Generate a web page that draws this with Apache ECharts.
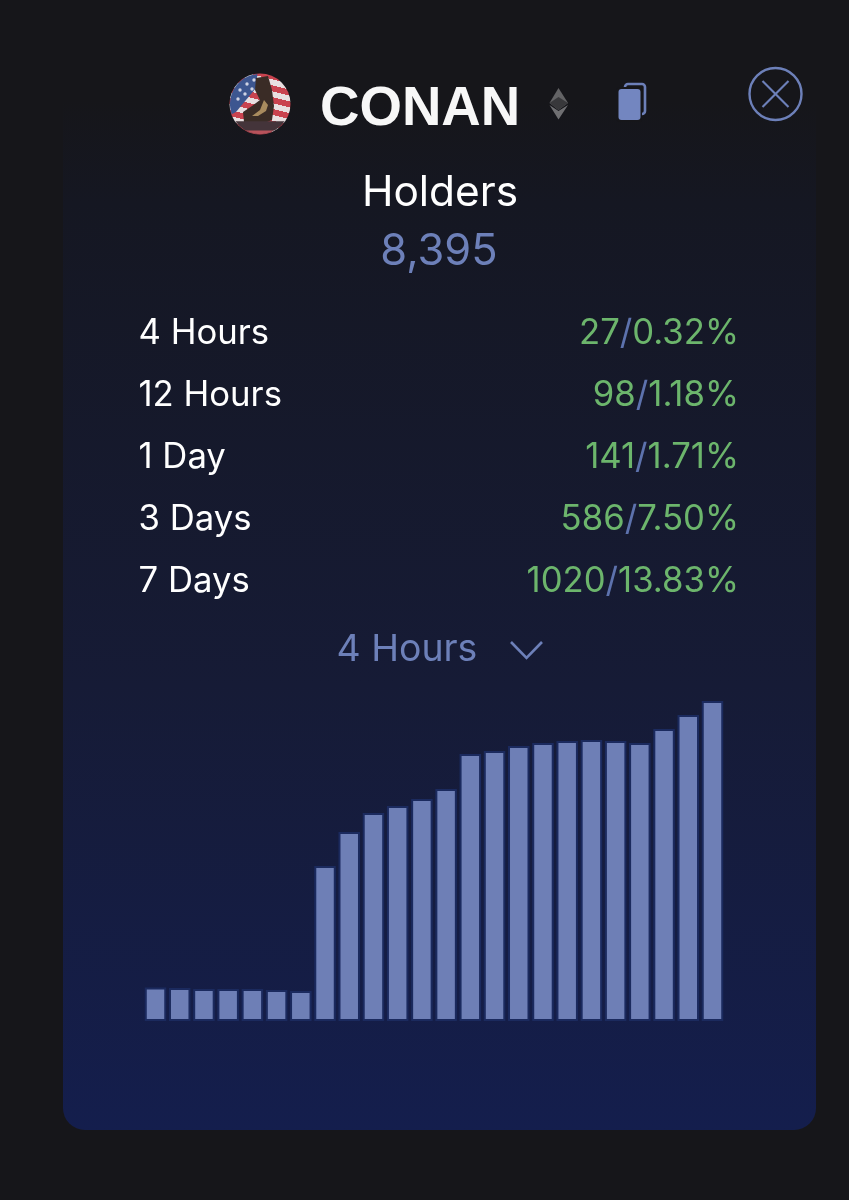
<!DOCTYPE html>
<html>
<head>
<meta charset="utf-8">
<style>html,body{margin:0;padding:0;background:#16161a}#c{width:849px;height:1200px}</style>
<script src="https://cdn.jsdelivr.net/npm/echarts@6/dist/echarts.min.js"></script>
</head>
<body>
<div id="c"></div>
<script>
const tokenName = 'CONAN';
const metricName = 'Holders';
const metricValue = '8,395';
const periodLabels = ['4 Hours', '12 Hours', '1 Day', '3 Days', '7 Days'];
const periodCounts = ['27', '98', '141', '586', '1020'];
const periodPercents = ['0.32%', '1.18%', '1.71%', '7.50%', '13.83%'];
const selectedPeriod = '4 Hours';
const categories = ['1','2','3','4','5','6','7','8','9','10','11','12','13','14','15','16','17','18','19','20','21','22','23','24'];
const holderBars = [33.5,33,32,32,32,31,30,155,189,208,215,222,232,267,270,275,278,280,281,280,278,292,306,320];

const WHITE = '#ffffff', BLUE = '#6d80b9', GREEN = '#6cb56c', SLASH = '#5d72ad';
const FONT = 'Inter';
const rowBase = [344, 406, 468, 530, 592];

const graphics = [];
graphics.push({
  type: 'rect', z: -10, silent: true,
  shape: {x: 63, y: 100, width: 753, height: 1030, r: [0, 0, 22, 22]},
  style: {fill: {type: 'linear', x: 0, y: 0, x2: 0, y2: 1, colorStops: [
    {offset: 0, color: '#16161a'},
    {offset: 0.1, color: '#151722'},
    {offset: 0.57, color: '#161b36'},
    {offset: 1, color: '#141e4d'}
  ]}}
});
function text(t, x, baseline, size, color, align, weight, family, k) {
  graphics.push({type: 'text', silent: true, x: x, y: baseline - (k || 0.81) * size, style: {
    text: t, fill: color, font: (weight || 400) + ' ' + size + 'px ' + (family || FONT),
    textAlign: align || 'left'
  }});
}
text(tokenName, 320, 124, 54.6, '#f7f7f7', 'left', 700, '"Liberation Sans"', 0.76);
text(metricName, 440, 207, 42.4, WHITE, 'center');
text(metricValue, 439, 266, 43.4, BLUE, 'center');
periodLabels.forEach((p, i) => {
  text(p, 138.5, rowBase[i], 34.7, WHITE, 'left');
  graphics.push({type: 'text', silent: true, x: 739, y: rowBase[i] - 0.81 * 34.7, style: {
    text: '{g|' + periodCounts[i] + '}{s|/}{g|' + periodPercents[i] + '}',
    textAlign: 'right',
    font: '400 34.7px ' + FONT,
    rich: {
      g: {fill: GREEN, font: '400 34.7px ' + FONT},
      s: {fill: SLASH, font: '400 34.7px ' + FONT}
    }
  }});
});
text(selectedPeriod, 336.5, 662, 37.4, BLUE, 'left');
graphics.push({type: 'polyline', silent: true, shape: {points: [[511, 642], [526.5, 658], [542, 642]]},
  style: {stroke: BLUE, lineWidth: 2.6, fill: null}});
graphics.push({type: 'circle', silent: true, shape: {cx: 775.5, cy: 94, r: 26}, style: {fill: 'none', stroke: BLUE, lineWidth: 2.4}});
graphics.push({type: 'line', silent: true, shape: {x1: 762.5, y1: 81, x2: 788.5, y2: 107}, style: {stroke: BLUE, lineWidth: 2.2}});
graphics.push({type: 'line', silent: true, shape: {x1: 788.5, y1: 81, x2: 762.5, y2: 107}, style: {stroke: BLUE, lineWidth: 2.2}});
graphics.push({type: 'rect', silent: true, shape: {x: 625, y: 84, width: 20, height: 30, r: 3}, style: {fill: 'none', stroke: BLUE, lineWidth: 2.6}});
graphics.push({type: 'rect', silent: true, shape: {x: 616.5, y: 87, width: 25.5, height: 35, r: 3}, style: {fill: '#16161a'}});
graphics.push({type: 'rect', silent: true, shape: {x: 618.5, y: 89, width: 22, height: 31, r: 3}, style: {fill: '#7386c0'}});
graphics.push({type: 'polygon', silent: true, shape: {points: [[558.5, 88], [568, 103], [558.5, 110], [549.5, 103]]}, style: {fill: '#636365'}});
graphics.push({type: 'polygon', silent: true, shape: {points: [[558.5, 97], [568, 103], [558.5, 110], [549.5, 103]]}, style: {fill: '#38383b'}});
graphics.push({type: 'polygon', silent: true, shape: {points: [[549.5, 105], [558.5, 111], [568, 105], [558.5, 119.5]]}, style: {fill: '#6f6f72'}});
// avatar
const stripes = [];
const nS = 11;
for (let i = 0; i < nS; i++) {
  const c = i % 2 ? '#e8dfe0' : '#c9434f';
  stripes.push({offset: i / nS, color: c}, {offset: (i + 1) / nS, color: c});
}
graphics.push({type: 'circle', silent: true, shape: {cx: 260, cy: 104, r: 30.5},
  style: {fill: {type: 'linear', x: 0.7, y: 0, x2: 0.45, y2: 1, colorStops: stripes}}});
function seg(a0, a1, inner) {
  const pts = [];
  for (let i = 0; i <= 24; i++) {
    const a = (a0 + (a1 - a0) * i / 24) * Math.PI / 180;
    pts.push([260 + 30 * Math.cos(a), 104 + 30 * Math.sin(a)]);
  }
  return pts.concat(inner || []);
}
graphics.push({type: 'polygon', silent: true, shape: {points: seg(160, 265, [[256, 88], [246, 100], [236, 112]])}, style: {fill: '#3d5690'}});
[[240,90],[247,84],[254,80],[238,99],[245,94],[252,89]].forEach(p => graphics.push({type: 'circle', silent: true, shape: {cx: p[0], cy: p[1], r: 1.7}, style: {fill: '#cfd3e4'}}));
graphics.push({type: 'polygon', silent: true, shape: {points: [[256,78],[268,76],[272,90],[274,106],[272,120],[262,124],[244,122],[243,112],[252,106],[260,100],[255,90]]}, style: {fill: '#3a2c26'}});
graphics.push({type: 'polygon', silent: true, shape: {points: [[264,100],[268,105],[266,111],[258,116],[252,116],[260,110]]}, style: {fill: '#a98b5e'}});
graphics.push({type: 'polygon', silent: true, shape: {points: seg(35, 145)}, style: {fill: '#44343a'}});
graphics.push({type: 'polygon', silent: true, shape: {points: seg(62, 118)}, style: {fill: '#b8525b'}});

const chart = echarts.init(document.getElementById('c'), null, {renderer: 'canvas'});
chart.setOption({
  animation: false,
  backgroundColor: '#16161a',
  graphic: {elements: graphics},
  grid: {left: 143.4, width: 581.2, top: 691, height: 330, containLabel: false},
  xAxis: {type: 'category', data: categories, show: false, boundaryGap: true},
  yAxis: {type: 'value', min: 0, max: 330, show: false, splitLine: {show: false}},
  series: [{
    type: 'bar', data: holderBars, barWidth: 21.5, z: 5,
    itemStyle: {color: '#6e7fb6', borderColor: '#1b2a5e', borderWidth: 2},
    silent: true
  }]
});
</script>
</body>
</html>
